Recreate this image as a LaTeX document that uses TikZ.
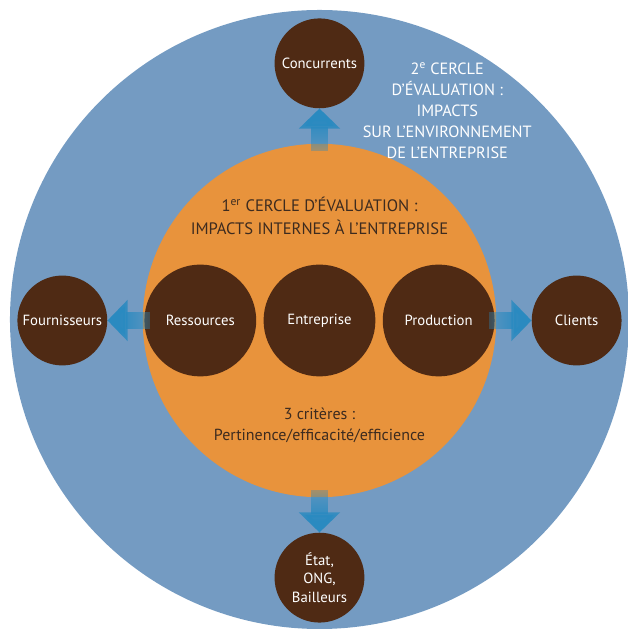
\documentclass[tikz,border=0pt]{standalone}
\usepackage{fontspec}
\setmainfont{PT Sans}
\usetikzlibrary{positioning,arrows.meta,fadings}

\definecolor{bleufond}{HTML}{749BC2}
\definecolor{orangefond}{HTML}{E8933C}
\definecolor{brun}{HTML}{4F2A14}
\definecolor{bleufleche}{HTML}{2A8AC0}
\definecolor{texte}{HTML}{3D2B1F}

\tikzset{
  cercle/.style={circle, fill=brun, text=white, inner sep=0pt, align=center,
    font=\fontsize{10.5}{13.5}\selectfont},
  petit/.style={cercle, minimum size=2.25cm},
  grand/.style={cercle, minimum size=2.8cm},
  fleche/.style={-{Triangle[width=1cm,length=0.5cm]}, line width=0.45cm,
    draw=bleufleche, shorten <=-0.2cm, path fading=trainee, fit fading=false},
}

\begin{tikzfadingfrompicture}[name=trainee]
  \fill[transparent!100] (-1.5,-1.5) rectangle (1.5,-0.6);
  \shade[bottom color=transparent!100, top color=transparent!0] (-1.5,-0.6) rectangle (1.5,0.6);
  \fill[transparent!0] (-1.5,0.6) rectangle (1.5,1.5);
\end{tikzfadingfrompicture}

\begin{document}
\begin{tikzpicture}
  \useasboundingbox (-8,-7.725) rectangle (7.725,8.025);
  \node[circle, fill=bleufond, minimum size=15.5cm] (fond) at (0,0.025) {};
  \node[circle, fill=orangefond, minimum size=8.85cm] (noyau) at (0,0) {};

  \node[grand] (ent) at (0,0) {Entreprise};
  \node[grand, left=0.17cm of ent] (res) {Ressources};
  \node[grand, right=0.17cm of ent] (prod) {Production};

  \node[petit, above=0.875cm of noyau] (conc) {Concurrents};
  \node[petit, left=0.875cm of noyau] (four) {Fournisseurs};
  \node[petit, right=0.875cm of noyau] (cli) {Clients};
  \node[petit, below=0.875cm of noyau] (etat) {État,\\ONG,\\Bailleurs};

  \draw[fleche, fading transform={shift={(noyau.north)}}] (noyau.north) -- (conc.south);
  \draw[fleche, fading transform={shift={(noyau.west)}, rotate=90}] (noyau.west) -- (four.east);
  \draw[fleche, fading transform={shift={(noyau.east)}, rotate=-90}] (noyau.east) -- (cli.west);
  \draw[fleche, fading transform={shift={(noyau.south)}, rotate=180}] (noyau.south) -- (etat.north);

  \node[text=texte, align=center, font=\fontsize{11.8}{16.3}\selectfont] (cercle1) at (0,2.61)
    {1\textsuperscript{er} CERCLE D’ÉVALUATION :\\IMPACTS INTERNES À L’ENTREPRISE};
  \node[text=texte, align=center, font=\fontsize{11.4}{15.6}\selectfont] (criteres) at (0,-2.625)
    {3 critères :\\Pertinence/efficacité/efficience};
  \node[text=white, align=center, font=\fontsize{11.6}{14.9}\selectfont] (cercle2) at (3.2,5.25)
    {2\textsuperscript{e} CERCLE\\D’ÉVALUATION :\\IMPACTS\\SUR L’ENVIRONNEMENT\\DE L’ENTREPRISE};
\end{tikzpicture}
\end{document}
